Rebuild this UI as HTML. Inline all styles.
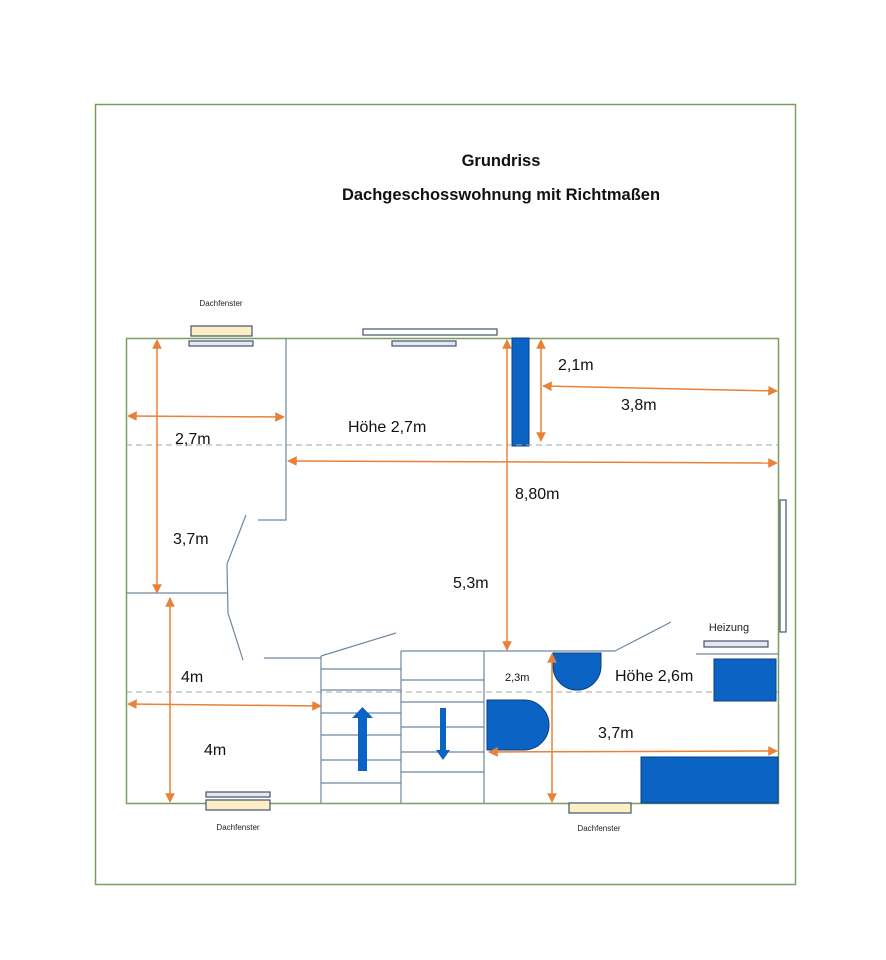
<!DOCTYPE html>
<html><head><meta charset="utf-8"><style>
html,body{margin:0;padding:0;background:#fff;}
svg{display:block;font-family:"Liberation Sans",sans-serif;}
</style></head><body>
<svg width="886" height="960" viewBox="0 0 886 960" xmlns="http://www.w3.org/2000/svg">
<defs>
<marker id="a" viewBox="0 0 10 10" refX="9" refY="5" markerWidth="6.5" markerHeight="6.5" orient="auto-start-reverse"><path d="M0,0L10,5L0,10z" fill="#e8823a"/></marker>
</defs>
<rect x="95.5" y="104.5" width="700" height="780" fill="none" stroke="#7d9d5e" stroke-width="1.5"/>
<text x="501" y="166" font-size="16.5" font-weight="bold" text-anchor="middle" fill="#111">Grundriss</text>
<text x="501" y="200" font-size="16.5" font-weight="bold" text-anchor="middle" fill="#111">Dachgeschosswohnung mit Richtmaßen</text>
<rect x="126.5" y="338.5" width="652" height="465" fill="none" stroke="#7d9d5e" stroke-width="1.5"/>
<!-- windows -->
<text x="221" y="306" font-size="8" text-anchor="middle" fill="#222">Dachfenster</text>
<rect x="191" y="326" width="61" height="10" fill="#fcefc6" stroke="#44546a" stroke-width="1.2"/>
<rect x="189" y="341" width="64" height="5" fill="#e4e8f2" stroke="#44546a" stroke-width="1.2"/>
<rect x="363" y="329" width="134" height="6" fill="#fff" stroke="#44546a" stroke-width="1.2"/>
<rect x="392" y="341" width="64" height="5" fill="#e4e8f2" stroke="#44546a" stroke-width="1.2"/>
<rect x="206" y="792" width="64" height="5" fill="#e4e8f2" stroke="#44546a" stroke-width="1.2"/>
<rect x="206" y="800" width="64" height="10" fill="#fcefc6" stroke="#44546a" stroke-width="1.2"/>
<text x="238" y="830" font-size="8" text-anchor="middle" fill="#222">Dachfenster</text>
<rect x="569" y="803" width="62" height="10" fill="#fcefc6" stroke="#44546a" stroke-width="1.2"/>
<text x="599" y="831" font-size="8" text-anchor="middle" fill="#222">Dachfenster</text>
<rect x="780" y="500" width="6" height="132" fill="#fff" stroke="#44546a" stroke-width="1.2"/>
<!-- blue -->
<rect x="512" y="338" width="17" height="108" fill="#0b63c4" stroke="#0a3f80"/>
<!-- dashed -->
<line x1="126" y1="445" x2="778" y2="445" stroke="#9aa" stroke-dasharray="6,4"/>
<line x1="126" y1="692" x2="778" y2="692" stroke="#9aa" stroke-dasharray="6,4"/>
<!-- walls -->
<g stroke="#6e86a0" stroke-width="1.2" fill="none">
<polyline points="286,338 286,520 258,520"/>
<polyline points="246,515 227,564 228,613 243,660"/>
<line x1="126" y1="593" x2="228" y2="593"/>
<line x1="264" y1="658" x2="321" y2="658"/>
<line x1="321" y1="656" x2="396" y2="633"/>
<line x1="321" y1="656" x2="321" y2="803"/>
<line x1="401" y1="651" x2="401" y2="803"/>
<line x1="484" y1="651" x2="484" y2="803"/>
<line x1="401" y1="651" x2="615" y2="651"/>
<line x1="615" y1="651" x2="671" y2="622"/>
<line x1="696" y1="654" x2="778" y2="654"/>
<line x1="321" y1="669" x2="401" y2="669"/><line x1="321" y1="690" x2="401" y2="690"/><line x1="321" y1="713" x2="401" y2="713"/><line x1="321" y1="735" x2="401" y2="735"/><line x1="321" y1="760" x2="401" y2="760"/><line x1="321" y1="783" x2="401" y2="783"/>
<line x1="401" y1="680" x2="484" y2="680"/><line x1="401" y1="702" x2="484" y2="702"/><line x1="401" y1="727" x2="484" y2="727"/><line x1="401" y1="752" x2="484" y2="752"/><line x1="401" y1="772" x2="484" y2="772"/>
</g>
<!-- stair arrows -->
<path d="M358,771 L367,771 L367,718 L373,718 L362.5,707 L352,718 L358,718z" fill="#0b63c4"/>
<path d="M440,708 L446,708 L446,750 L450,750 L443,760 L436,750 L440,750z" fill="#0b63c4"/>
<!-- furniture -->
<path d="M487,700 L524,700 A25,25 0 0 1 524,750 L487,750z" fill="#0b63c4" stroke="#0a3f80"/>
<path d="M553,653 L601,653 L601,666 A24,24 0 0 1 553,666z" fill="#0b63c4" stroke="#0a3f80"/>
<text x="729" y="631" font-size="11" text-anchor="middle" fill="#222">Heizung</text>
<rect x="704" y="641" width="64" height="6" fill="#e4e8f2" stroke="#44546a" stroke-width="1.2"/>
<rect x="714" y="659" width="62" height="42" fill="#0b63c4" stroke="#0a3f80"/>
<rect x="641" y="757" width="137" height="46" fill="#0b63c4" stroke="#0a3f80"/>
<!-- dimensions -->
<g stroke="#e8823a" stroke-width="1.5" marker-start="url(#a)" marker-end="url(#a)">
<line x1="157" y1="340" x2="157" y2="593"/>
<line x1="128" y1="416" x2="284" y2="417"/>
<line x1="170" y1="598" x2="170" y2="802"/>
<line x1="128" y1="704" x2="321" y2="706"/>
<line x1="507" y1="340" x2="507" y2="650"/>
<line x1="288" y1="461" x2="777" y2="463"/>
<line x1="541" y1="340" x2="541" y2="441"/>
<line x1="543" y1="386" x2="777" y2="391"/>
<line x1="552" y1="654" x2="552" y2="802"/>
<line x1="489" y1="752" x2="777" y2="751"/>
</g>
<g font-size="16" fill="#111">
<text x="558" y="370">2,1m</text>
<text x="621" y="410">3,8m</text>
<text x="348" y="432">Höhe 2,7m</text>
<text x="175" y="444">2,7m</text>
<text x="515" y="499">8,80m</text>
<text x="173" y="544">3,7m</text>
<text x="453" y="588">5,3m</text>
<text x="181" y="682">4m</text>
<text x="615" y="681">Höhe 2,6m</text>
<text x="598" y="738">3,7m</text>
<text x="204" y="755">4m</text>
</g>
<text x="505" y="681" font-size="11" fill="#111">2,3m</text>
</svg>
</body></html>
